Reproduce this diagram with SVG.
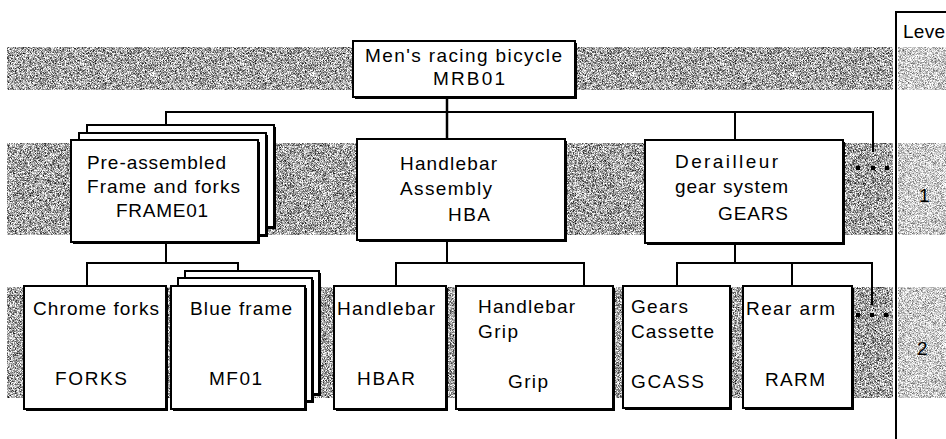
<svg xmlns="http://www.w3.org/2000/svg" width="946" height="439" viewBox="0 0 946 439">
<defs>
<filter id="grain" x="0" y="0" width="1" height="1" color-interpolation-filters="sRGB">
<feTurbulence type="fractalNoise" baseFrequency="1.6" numOctaves="1" seed="3"/>
<feColorMatrix type="matrix" values="2.2 0 0 0 -0.45  2.2 0 0 0 -0.45  2.2 0 0 0 -0.45  0 0 0 0 1"/>
</filter>
<filter id="grainLight" x="0" y="0" width="1" height="1" color-interpolation-filters="sRGB">
<feTurbulence type="fractalNoise" baseFrequency="1.6" numOctaves="1" seed="7"/>
<feColorMatrix type="matrix" values="1.6 0 0 0 0.0  1.6 0 0 0 0.0  1.6 0 0 0 0.0  0 0 0 0 1"/>
</filter>
<style>
.band{fill:#a6a6a6;filter:url(#grain)}
.bandL{fill:#d0d0d0;filter:url(#grainLight)}
.box{fill:#fff;stroke:#000;stroke-width:2}
.sh{fill:#000}
.ln{fill:none;stroke:#000;stroke-width:2}
.lnb{fill:none;stroke:#000;stroke-width:2.5}
text{font-family:"Liberation Sans",Arial,sans-serif;font-size:19px;fill:#000}
.dot{fill:#000}
</style>
</defs>
<rect width="946" height="439" fill="#fff"/>
<g id="bands">
<rect class="band" x="7" y="47" width="886" height="43"/>
<rect class="band" x="7" y="143" width="886" height="92"/>
<rect class="band" x="7" y="287" width="886" height="111"/>
<rect class="bandL" x="898" y="47" width="48" height="43"/>
<rect class="bandL" x="898" y="143" width="48" height="92"/>
<rect class="bandL" x="898" y="287" width="48" height="111"/>
</g>
<g id="level-column">
<path class="ln" d="M896,439 V12 H946"/>
<text x="903" y="38" textLength="42">Leve</text>
<text x="919" y="202">1</text>
<text x="917" y="355">2</text>
</g>
<g id="connectors">
<path class="lnb" d="M447,97 V139"/>
<path class="ln" d="M166,125 V112 H873 V152"/>
<path class="ln" d="M735,112 V140"/>
<path class="ln" d="M166,242 V263 H87 V286 M166,263 H238 V271"/>
<path class="ln" d="M447,240 V263 H396 V286 M447,263 H584 V286"/>
<path class="ln" d="M735,243 V263 H677 V286 M735,263 H872 V305 M792,263 V286"/>
</g>
<g id="more-level1">
<rect class="dot" x="856" y="166" width="4" height="4"/>
<rect class="dot" x="871" y="166" width="4" height="4"/>
<rect class="dot" x="885" y="166" width="4" height="4"/>
</g>
<g id="more-level2">
<rect class="dot" x="856" y="313" width="4" height="4"/>
<rect class="dot" x="870" y="313" width="4" height="4"/>
<rect class="dot" x="884" y="313" width="4" height="4"/>
</g>
<g id="MRB01">
<rect class="sh" x="355" y="43" width="222" height="56"/>
<rect class="box" x="353" y="41" width="222" height="56"/>
<text x="365" y="62" textLength="197">Men's racing bicycle</text>
<text x="433" y="85" textLength="72">MRB01</text>
</g>
<g id="FRAME01">
<rect class="sh" x="89" y="127" width="187" height="102"/>
<rect class="box" x="87" y="125" width="187" height="102"/>
<rect class="sh" x="81" y="135" width="187" height="102"/>
<rect class="box" x="79" y="133" width="187" height="102"/>
<rect class="sh" x="73" y="142" width="187" height="102"/>
<rect class="box" x="71" y="140" width="187" height="102"/>
<text x="87" y="169" textLength="139">Pre-assembled</text>
<text x="87" y="193" textLength="153">Frame and forks</text>
<text x="116" y="217" textLength="92">FRAME01</text>
</g>
<g id="HBA">
<rect class="sh" x="359" y="141" width="208" height="101"/>
<rect class="box" x="357" y="139" width="208" height="101"/>
<text x="400" y="170" textLength="97">Handlebar</text>
<text x="400" y="195" textLength="92">Assembly</text>
<text x="448" y="221" textLength="42">HBA</text>
</g>
<g id="GEARS">
<rect class="sh" x="647" y="142" width="198" height="103"/>
<rect class="box" x="645" y="140" width="198" height="103"/>
<text x="675" y="168" textLength="103">Derailleur</text>
<text x="675" y="193" textLength="113">gear system</text>
<text x="718" y="220" textLength="70">GEARS</text>
</g>
<g id="FORKS">
<rect class="sh" x="26" y="288" width="142" height="123"/>
<rect class="box" x="24" y="286" width="142" height="123"/>
<text x="33" y="315" textLength="126">Chrome forks</text>
<text x="55" y="385" textLength="72">FORKS</text>
</g>
<g id="MF01">
<rect class="sh" x="187" y="273" width="134" height="123"/>
<rect class="box" x="185" y="271" width="134" height="123"/>
<rect class="sh" x="180" y="280" width="134" height="123"/>
<rect class="box" x="178" y="278" width="134" height="123"/>
<rect class="sh" x="173" y="288" width="134" height="123"/>
<rect class="box" x="171" y="286" width="134" height="123"/>
<text x="190" y="315" textLength="102">Blue frame</text>
<text x="209" y="385" textLength="53">MF01</text>
</g>
<g id="HBAR">
<rect class="sh" x="336" y="288" width="112" height="123"/>
<rect class="box" x="334" y="286" width="112" height="123"/>
<text x="337" y="315" textLength="98">Handlebar</text>
<text x="357" y="385" textLength="58">HBAR</text>
</g>
<g id="Grip">
<rect class="sh" x="458" y="288" width="157" height="123"/>
<rect class="box" x="456" y="286" width="157" height="123"/>
<text x="478" y="313" textLength="97">Handlebar</text>
<text x="478" y="338" textLength="40">Grip</text>
<text x="508" y="388" textLength="40">Grip</text>
</g>
<g id="GCASS">
<rect class="sh" x="625" y="288" width="107" height="122"/>
<rect class="box" x="623" y="286" width="107" height="122"/>
<text x="631" y="313" textLength="57">Gears</text>
<text x="631" y="338" textLength="83">Cassette</text>
<text x="631" y="388" textLength="73">GCASS</text>
</g>
<g id="RARM">
<rect class="sh" x="745" y="288" width="109" height="122"/>
<rect class="box" x="743" y="286" width="109" height="122"/>
<text x="746" y="315" textLength="89">Rear arm</text>
<text x="765" y="386" textLength="60">RARM</text>
</g>
</svg>
